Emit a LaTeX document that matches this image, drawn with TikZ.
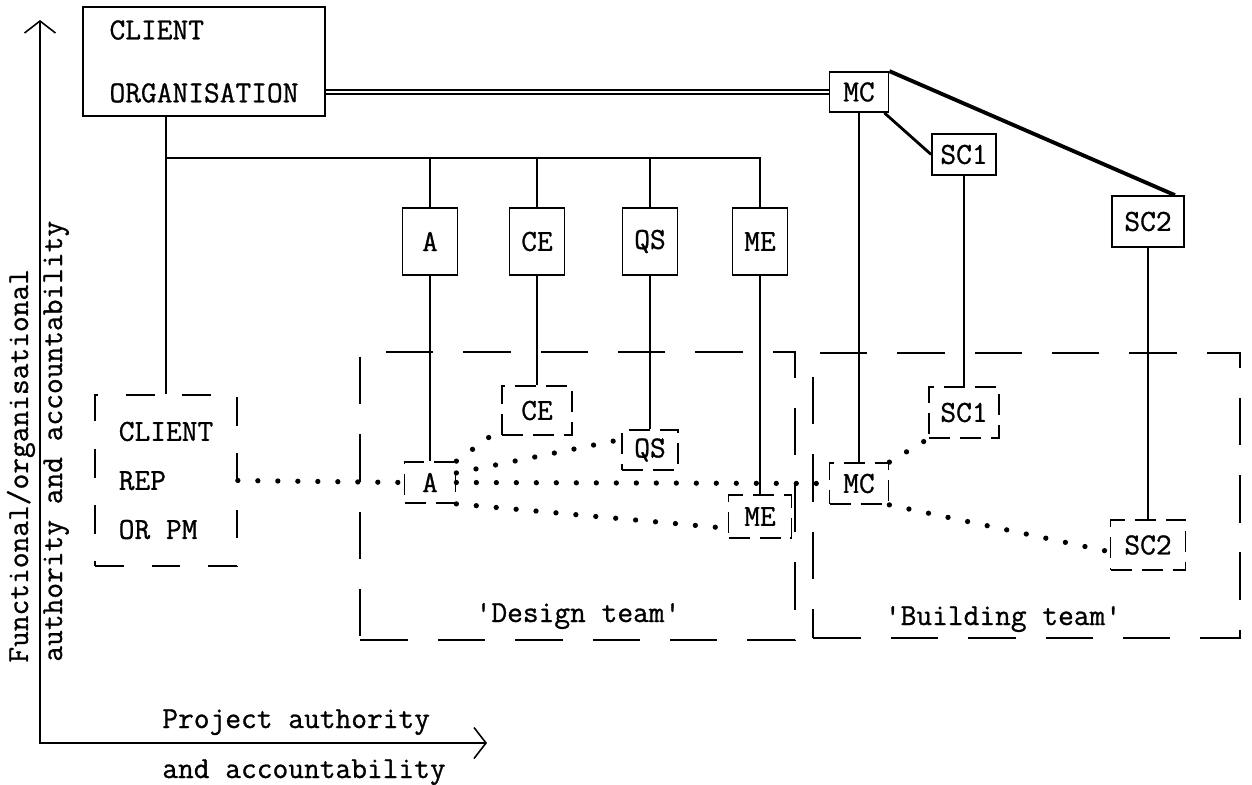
\documentclass[tikz,border=0pt]{standalone}
\usepackage{fontspec}
\setmonofont[FakeBold=0.9]{Latin Modern Mono}
\usetikzlibrary{arrows.meta, positioning}

\begin{document}
\begin{tikzpicture}[
        x=0.02cm, y=-0.02cm,
        font=\ttfamily\fontsize{17.4}{21}\selectfont,
        orgbox/.style={rectangle, draw, line width=1pt, minimum width=4.84cm, minimum height=2.18cm, align=left},
        repbox/.style={rectangle, draw, line width=1pt, dash pattern=on 0.58cm off 0.55cm, minimum width=2.84cm, minimum height=3.42cm, align=left},
        teambox/.style={rectangle, draw, line width=1pt, dash pattern=on 0.95cm off 0.6cm, inner sep=0pt},
        member/.style={rectangle, draw, line width=1pt, minimum width=1.1cm, minimum height=1.34cm, inner sep=0pt},
        firm/.style={rectangle, draw, line width=1pt, inner sep=0pt},
        site/.style={rectangle, draw, line width=1pt, dash pattern=on 0.42cm off 0.2cm, inner sep=0pt},
        caption/.style={inner sep=0pt},
        link/.style={line width=0.8pt},
        contract/.style={line width=1.6pt},
        tie/.style={line width=3pt, line cap=round, dash pattern=on 0pt off 0.4cm},
        axis/.style={line width=0.9pt, {Straight Barb[length=0.24cm, width=0.62cm]}-{Straight Barb[length=0.24cm, width=0.62cm]}}
    ]
        \useasboundingbox (0,0) rectangle (1252,785);

        % axes
        \coordinate (ytip) at (40,20);
        \coordinate (origin) at (40,743);
        \coordinate (xtip) at (487,743);
        \draw[axis] (ytip) -- (origin) -- (xtip);
        \node[caption, rotate=90, anchor=base west] (vname) at (28,663) {Functional/organisational};
        \node[caption, rotate=90, anchor=base west] (vname2) at (62,662) {authority and accountability};
        \node[caption, anchor=base west] (hname) at (162,728) {Project authority};
        \node[caption, anchor=base west] (hname2) at (162,778) {and accountability};

        % team frames
        \node[teambox, minimum width=8.7cm, minimum height=5.76cm] (design) at (577.5,496) {};
        \node[teambox, minimum width=8.54cm, minimum height=5.7cm] (building) at (1026.5,495.5) {};
        \node[caption, anchor=base] (designname) at (578,622) {'Design team'};
        \node[caption, anchor=base] (buildingname) at (1003,625) {'Building team'};

        % organisation side
        \node[orgbox] (client) at (204,61.5) {CLIENT\\[14.8pt]ORGANISATION};
        \node[repbox] (rep) at (166,480.5) {CLIENT\\[6.9pt]REP\\[6.9pt]OR PM};
        \node[member] (a) at (430,241.5) {A};
        \node[member] (ce) at (537,241.5) {CE};
        \node[member] (qs) at (650,241.5) {QS};
        \node[member] (me) at (760,241.5) {ME};
        \node[firm, minimum width=1.18cm, minimum height=0.8cm] (mc) at (859,92) {MC};
        \node[firm, minimum width=1.28cm, minimum height=0.82cm] (sc1) at (964,154.5) {SC1};
        \node[firm, minimum width=1.44cm, minimum height=1.02cm] (sc2) at (1148,221.5) {SC2};

        % project side
        \node[site, minimum width=1.02cm, minimum height=0.82cm] (a2) at (430,482.5) {A};
        \node[site, minimum width=1.4cm, minimum height=0.98cm] (ce2) at (537,410.5) {CE};
        \node[site, minimum width=1.12cm, minimum height=0.8cm] (qs2) at (650,450) {QS};
        \node[site, minimum width=1.26cm, minimum height=0.86cm] (me2) at (760,516.5) {ME};
        \node[site, minimum width=1.18cm, minimum height=0.82cm] (mc2) at (859,483.5) {MC};
        \node[site, minimum width=1.4cm, minimum height=1.02cm] (sc12) at (964,412.5) {SC1};
        \node[site, minimum width=1.5cm, minimum height=1cm] (sc22) at (1148,545) {SC2};

        % functional lines
        \coordinate (bar) at (166,158);
        \draw[double, double distance=1.6pt, line width=0.7pt] (client.east |- mc.west) -- (mc.west);
        \draw[link] (rep.north |- client.south) -- (rep.north);
        \draw[link] (bar) -| (me.north);
        \draw[link] (bar -| a.north) -- (a.north);
        \draw[link] (bar -| ce.north) -- (ce.north);
        \draw[link] (bar -| qs.north) -- (qs.north);
        \draw[link] (a.south) -- (a2.north);
        \draw[link] (ce.south) -- (ce2.north);
        \draw[link] (qs.south) -- (qs2.north);
        \draw[link] (me.south) -- (me2.north);
        \draw[link] (mc.south) -- (mc2.north);
        \draw[link] (sc1.south) -- (sc12.north);
        \draw[link] (sc2.south) -- (sc22.north);
        \draw[contract] ([xshift=-0.1cm]mc.south east) -- (sc1.west);
        \draw[contract, line width=2.2pt] (mc.north east) -- ([xshift=-0.2cm]sc2.north east);

        % project lines
        \draw[tie] (rep.east) -- (a2.west);
        \draw[tie] (a2.north east) -- ([yshift=0.15cm]ce2.south west);
        \draw[tie] (a2.20) -- (qs2.160);
        \draw[tie] (a2.east) -- (mc2.west);
        \draw[tie] (a2.south east) -- (me2.200);
        \draw[tie] (mc2.north east) -- (sc12.south west);
        \draw[tie] (mc2.south east) -- (sc22.190);
    \end{tikzpicture}
\end{document}
